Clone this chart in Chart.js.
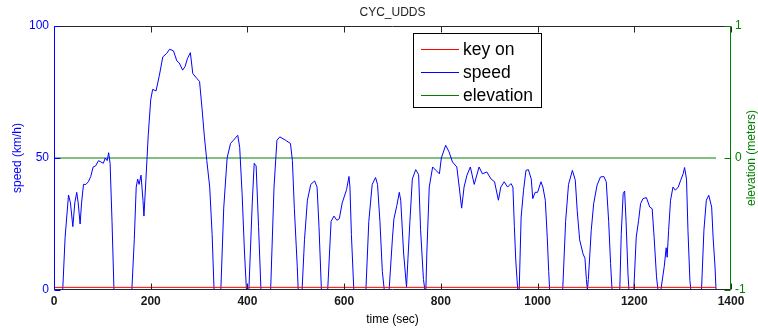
<!DOCTYPE html>
<html>
<head>
<meta charset="utf-8">
<script src="https://cdn.jsdelivr.net/npm/chart.js"></script>
<style>
  html, body { margin: 0; padding: 0; background: #fff; }
  canvas { display: block; }
</style>
</head>
<body>
<canvas id="cycChart" width="758" height="333"></canvas>
<script>
// UDDS cycle: time (sec) vs speed (km/h)
const timeSec = [
  0, 18, 23, 30, 34, 39, 43, 47, 50, 54, 57, 61, 66, 71, 76, 81, 86, 92, 97, 102, 106, 110, 113, 116, 120, 124,
  161, 166, 170, 173, 176, 180, 184, 186, 190, 195, 200, 204, 211, 218, 225, 233, 239, 247, 254, 259, 266, 271, 276, 282, 287, 296, 301, 306, 311, 316, 322, 327, 331,
  345, 351, 358, 365, 371, 380, 384, 389, 394, 398,
  403, 410, 414, 418, 423, 428,
  448, 455, 461, 467, 479, 489, 493, 497, 503, 505,
  513, 518, 524, 531, 539, 544, 548, 553,
  566, 573, 579, 585, 590, 596, 605, 610, 612, 615, 620,
  645, 651, 658, 665, 669, 674, 679, 683,
  693, 700, 703, 709, 714, 717, 723, 729, 732, 736, 741, 748, 754, 758, 764, 767,
  769, 771, 776, 783, 790, 797, 801, 810, 817, 824, 833, 838, 843, 848, 854, 861, 869, 879, 886, 895, 904, 911, 919, 924, 931, 938, 945, 949, 952, 955, 959,
  962, 966, 971, 976, 981, 987, 990, 995, 1000, 1007, 1011, 1016, 1020, 1023, 1025,
  1052, 1058, 1064, 1072, 1078, 1082, 1087, 1094, 1098, 1101, 1103,
  1105, 1111, 1116, 1123, 1130, 1137, 1142, 1147, 1151, 1154,
  1170, 1173, 1177, 1180, 1183, 1187, 1189,
  1199, 1204, 1209, 1213, 1218, 1225, 1232, 1237, 1241, 1246, 1249,
  1255, 1262, 1266, 1268, 1271, 1275, 1280, 1285, 1291, 1296, 1301, 1304, 1308, 1311, 1315, 1317,
  1339, 1344, 1349, 1354, 1360, 1363, 1367, 1369
];
const speedKmh = [
  0, 0, 20, 36, 33, 24, 33, 37, 33, 25, 33, 40, 40, 41, 43, 46.6, 47, 49, 48.5, 48, 50, 49, 52, 48, 26, 0,
  0, 19, 39, 42, 40, 43.5, 34, 28, 41.6, 59, 72, 76, 75.4, 81.4, 88.3, 89.6, 91.2, 90.6, 86.8, 86, 83.3, 84.6, 87.7, 89.9, 82, 80, 79, 69, 58, 49, 39, 21, 0,
  0, 31, 50, 55.5, 56.7, 58.6, 54, 36.5, 14, 0,
  0, 33, 48, 47, 24, 0,
  0, 39, 56.7, 58, 56.7, 55.5, 49, 31, 9, 0,
  0, 19, 34, 40, 41.3, 39, 24, 0,
  0, 26, 28, 26.4, 27, 33, 38, 43, 39, 21, 0,
  0, 26, 40, 42.6, 40, 26, 7, 0,
  0, 20, 27, 32, 37, 34, 14, 1, 12, 26, 42, 45.6, 43.7, 23, 4, 0,
  0, 14, 39, 46.6, 45.3, 44, 50, 54.8, 52.3, 48.5, 46.6, 39, 31, 39, 43.5, 46.6, 40, 46.6, 44, 44.7, 42, 41, 34, 39, 41, 39, 40.3, 39, 24, 11, 0,
  0, 27.6, 37.8, 45.3, 45.6, 42, 34.6, 37, 37, 41, 39, 34, 20, 7, 0,
  0, 26, 40, 45.3, 41.6, 30, 19, 13.7, 12, 4, 0,
  4, 22.6, 32.7, 39.7, 42.8, 43, 41, 26, 10, 0,
  0, 21, 36.5, 37.5, 26, 6, 0,
  0, 20, 26.4, 32.7, 34.6, 35, 31.4, 30.8, 20, 5, 0,
  0, 9, 16, 12.4, 22.6, 34, 39, 37.8, 39, 41.6, 44, 46.4, 42, 22.6, 3.6, 0,
  0, 22.6, 34, 35.9, 31.4, 20, 8.7, 0
];
// flat series over the whole cycle
const flatTime = [0, 1369];
const keyOnVals = [1, 1];
const elevationVals = [0, 0];

const seriesLabels = ['key on', 'speed', 'elevation'];
const seriesColors = ['#FF0000', '#0000FF', '#008000'];

const xTicks = [0, 200, 400, 600, 800, 1000, 1200, 1400];
const speedTicks = [0, 50, 100];
const elevTicks = [-1, 0, 1];

function pts(xs, ys) {
  return xs.map(function (x, i) { return { x: x, y: ys[i] }; });
}

// box, inward ticks, title, right label and legend drawn matlab style
const matlabLook = {
  id: 'matlabLook',
  afterDraw(chart) {
    const ctx = chart.ctx;
    const a = chart.chartArea;
    const sx = chart.scales.x, sy = chart.scales.y, sy2 = chart.scales.y2;
    const L = Math.round(a.left) + 0.5, R = Math.round(a.right) - 0.5;
    const T = Math.round(a.top) + 0.5, B = Math.round(a.bottom) - 0.5;
    const tl = 6;
    ctx.save();
    ctx.lineWidth = 1;

    ctx.strokeStyle = '#262626';
    ctx.beginPath();
    ctx.moveTo(L, T); ctx.lineTo(R, T);
    ctx.moveTo(L, B); ctx.lineTo(R, B);
    xTicks.forEach(function (v) {
      const px = Math.round(sx.getPixelForValue(v)) + 0.5;
      ctx.moveTo(px, B); ctx.lineTo(px, B - tl);
      ctx.moveTo(px, T); ctx.lineTo(px, T + tl);
    });
    ctx.stroke();

    ctx.strokeStyle = seriesColors[1];
    ctx.beginPath();
    ctx.moveTo(L, T); ctx.lineTo(L, B);
    speedTicks.forEach(function (v) {
      const py = Math.round(sy.getPixelForValue(v)) + 0.5;
      ctx.moveTo(L, py); ctx.lineTo(L + tl, py);
    });
    ctx.stroke();

    ctx.strokeStyle = seriesColors[2];
    ctx.beginPath();
    ctx.moveTo(R, T); ctx.lineTo(R, B);
    elevTicks.forEach(function (v) {
      const py = Math.round(sy2.getPixelForValue(v)) + 0.5;
      ctx.moveTo(R, py); ctx.lineTo(R - tl, py);
    });
    ctx.stroke();

    // title
    ctx.fillStyle = '#222';
    ctx.font = '12px Arial, "Liberation Sans", sans-serif';
    ctx.textAlign = 'center';
    ctx.textBaseline = 'middle';
    ctx.fillText('CYC_UDDS', (a.left + a.right) / 2, 12.5);

    // right axis label, reading upward
    ctx.save();
    ctx.fillStyle = seriesColors[2];
    ctx.translate(752, (a.top + a.bottom) / 2);
    ctx.rotate(-Math.PI / 2);
    ctx.fillText('elevation (meters)', 0, 0);
    ctx.restore();

    // legend
    const bx = 413.5, by = 33.5, bw = 128, bh = 74;
    ctx.fillStyle = '#fff';
    ctx.fillRect(bx, by, bw, bh);
    ctx.strokeStyle = '#000';
    ctx.strokeRect(bx, by, bw, bh);
    ctx.font = '17.5px Arial, "Liberation Sans", sans-serif';
    ctx.textAlign = 'left';
    seriesLabels.forEach(function (lab, i) {
      const yy = Math.round(by + 15 + i * 23) + 0.5;
      ctx.strokeStyle = seriesColors[i];
      ctx.beginPath();
      ctx.moveTo(421, yy); ctx.lineTo(459, yy);
      ctx.stroke();
      ctx.fillStyle = '#000';
      ctx.fillText(lab, 463, yy + 1);
    });
    ctx.restore();
  }
};

const tickFont = { family: 'Arial, "Liberation Sans", sans-serif', size: 12 };
const xTickFont = { family: 'Arial, "Liberation Sans", sans-serif', size: 12, weight: 'bold' };

new Chart(document.getElementById('cycChart'), {
  type: 'line',
  data: {
    datasets: [{
      label: seriesLabels[0],
      data: pts(flatTime, keyOnVals),
      borderColor: seriesColors[0],
      borderWidth: 1,
      pointRadius: 0,
      yAxisID: 'y'
    },
    {
      label: seriesLabels[1],
      data: pts(timeSec, speedKmh),
      borderColor: seriesColors[1],
      borderWidth: 1,
      pointRadius: 0,
      yAxisID: 'y'
    },
    {
      label: seriesLabels[2],
      data: pts(flatTime, elevationVals),
      borderColor: seriesColors[2],
      borderWidth: 1,
      pointRadius: 0,
      yAxisID: 'y2'
    }]
  },
  options: {
    responsive: false,
    animation: false,
    devicePixelRatio: 1,
    layout: { padding: { top: 26, left: 0, right: 0, bottom: 0 } },
    plugins: { legend: { display: false }, title: { display: false }, tooltip: { enabled: false } },
    scales: {
      x: {
        type: 'linear',
        min: 0,
        max: 1400,
        grid: { display: false, drawTicks: false },
        border: { display: false },
        afterBuildTicks: function (s) { s.ticks = xTicks.map(function (v) { return { value: v }; }); },
        ticks: {
          color: '#1a1a1a', font: xTickFont, padding: 4, autoSkip: false, maxRotation: 0,
          callback: function (v) { return String(v); }
        },
        title: { display: true, text: 'time (sec)', color: '#000', font: tickFont, padding: { top: 0, bottom: 6 } },
        afterFit: function (s) { s.height = 43; }
      },
      y: {
        position: 'left',
        min: 0,
        max: 100,
        grid: { display: false, drawTicks: false },
        border: { display: false },
        afterBuildTicks: function (s) { s.ticks = speedTicks.map(function (v) { return { value: v }; }); },
        ticks: { color: seriesColors[1], font: tickFont, padding: 5, callback: function (v) { return String(v); } },
        title: { display: true, text: 'speed (km/h)', color: seriesColors[1], font: tickFont, padding: { top: 10, bottom: 0 } },
        afterFit: function (s) { s.width = 54; }
      },
      y2: {
        position: 'right',
        min: -1,
        max: 1,
        grid: { display: false, drawTicks: false },
        border: { display: false },
        afterBuildTicks: function (s) { s.ticks = elevTicks.map(function (v) { return { value: v }; }); },
        ticks: { color: seriesColors[2], font: tickFont, padding: 4, callback: function (v) { return String(v); } },
        afterFit: function (s) { s.width = 27; }
      }
    }
  },
  plugins: [matlabLook]
});
</script>
</body>
</html>
